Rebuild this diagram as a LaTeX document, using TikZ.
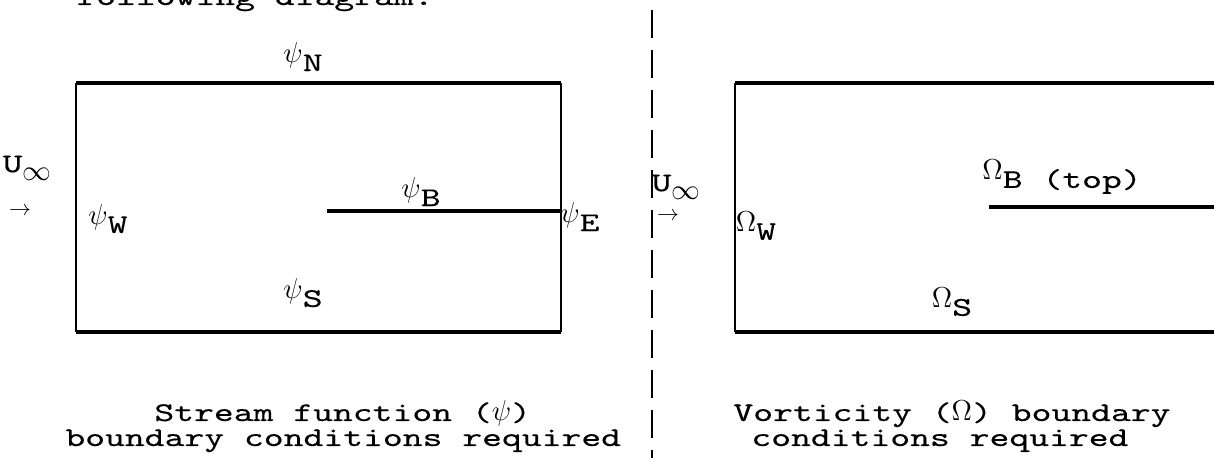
\documentclass[tikz,border=0pt]{standalone}
\usepackage{fontspec}
\setmonofont{lmmono10-regular.otf}[FakeStretch=1.4, FakeBold=0.3]

% Greek letter typed half a line up / down
\newcommand{\gup}[2]{\raisebox{0.3em}{$#1$}#2}
\newcommand{\gdn}[2]{#1\raisebox{-0.3em}{$#2$}}

\begin{document}
\begin{tikzpicture}[
    x=0.5pt, y=-0.5pt,
    lbl/.style={inner sep=0pt, font=\ttfamily\fontsize{13.5}{16}\selectfont},
    arrlbl/.style={inner sep=0pt, font=\fontsize{11}{12}\selectfont},
    wall/.style={line width=1.2pt},
    rim/.style={line width=1.7pt},
    plate/.style={line width=2.1pt},
    divider/.style={line width=1pt, dash pattern=on 14pt off 6pt, dash phase=15pt}
]

\useasboundingbox (0,0) rectangle (1214,458);
\clip (0,0) rectangle (1214,458);

%% ---- Corners and plate ends ----

% Stream function box (left)
\coordinate (lnw) at ( 76,  83);
\coordinate (lne) at (561,  83);
\coordinate (lsw) at ( 76, 332);
\coordinate (lse) at (561, 332);
\coordinate (lpl) at (327, 211);
\coordinate (lpr) at (561, 211);

% Vorticity box (right, runs off the page)
\coordinate (rnw) at ( 735,  83);
\coordinate (rne) at (1230,  83);
\coordinate (rsw) at ( 735, 332);
\coordinate (rse) at (1230, 332);
\coordinate (rpl) at ( 989, 207);
\coordinate (rpr) at (1230, 207);

% Dashed divider
\coordinate (dtop) at (652,   0);
\coordinate (dbot) at (652, 458);

%% ---- Lines ----

\draw[wall]  (lnw) -- (lsw);
\draw[wall]  (lne) -- (lse);
\draw[rim]   (lnw) -- (lne);
\draw[rim]   (lsw) -- (lse);
\draw[plate] (lpl) -- (lpr);

\draw[wall]  (rnw) -- (rsw);
\draw[rim]   (rnw) -- (rne);
\draw[rim]   (rsw) -- (rse);
\draw[plate] (rpl) -- (rpr);

\draw[divider] (dtop) -- (dbot);

%% ---- Labels ----

% left box
\node[lbl]    at (303,  57) (psin)  {\gup{\psi}{N}};
\node[lbl]    at (108, 219) (psiw)  {\gup{\psi}{W}};
\node[lbl]    at (421, 192) (psib)  {\gup{\psi}{B}};
\node[lbl]    at (580, 217) (psie)  {\gup{\psi}{E}};
\node[lbl]    at (303, 293) (psis)  {\gup{\psi}{S}};
\node[lbl]    at ( 27, 168) (uinfl) {\gdn{U}{\infty}};
\node[arrlbl] at ( 20, 211) (arrl)  {$\rightarrow$};

% right box
\node[lbl]    at ( 676, 187) (uinfr) {\gdn{U}{\infty}};
\node[arrlbl] at ( 668, 216) (arrr)  {$\rightarrow$};
\node[lbl]    at ( 756, 226) (omw)   {\gup{\Omega}{W}};
\node[lbl]    at (1062, 177) (omb)   {\gup{\Omega}{B} (top)};
\node[lbl]    at ( 952, 302) (oms)   {\gup{\Omega}{S}};

% running text and captions
\node[lbl, anchor=base west] at ( 76,   5) (prev)  {following diagram.};
\node[lbl, anchor=base west] at (154, 421) (capla) {Stream function ($\psi$)};
\node[lbl, anchor=base west] at ( 65, 446) (caplb) {boundary conditions required};
\node[lbl, anchor=base west] at (733, 421) (capra) {Vorticity ($\Omega$) boundary};
\node[lbl, anchor=base west] at (751, 446) (caprb) {conditions required};

\end{tikzpicture}
\end{document}
